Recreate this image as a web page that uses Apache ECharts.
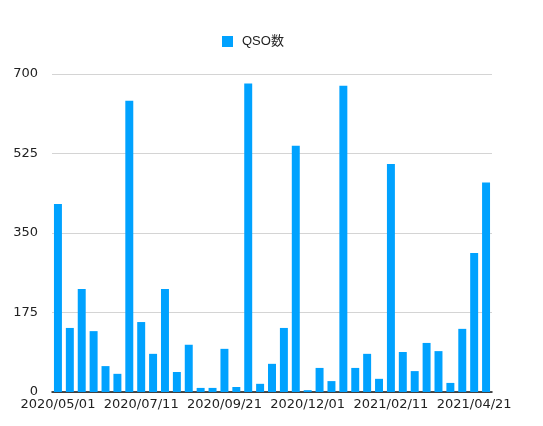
<!DOCTYPE html>
<html>
<head>
<meta charset="utf-8">
<script src="https://cdn.jsdelivr.net/npm/echarts@6/dist/echarts.min.js"></script>
<style>
  html, body { margin: 0; padding: 0; background: #fff; }
  #chart { width: 543px; height: 426px; }
</style>
</head>
<body>
<div id="chart"></div>
<script>
  // 10日ごとの集計
  const dates = [
    '2020/05/01', '2020/05/11', '2020/05/21', '2020/06/01', '2020/06/11', '2020/06/21',
    '2020/07/01', '2020/07/11', '2020/07/21', '2020/08/01', '2020/08/11', '2020/08/21',
    '2020/09/01', '2020/09/11', '2020/09/21', '2020/10/01', '2020/10/11', '2020/10/21',
    '2020/11/01', '2020/11/11', '2020/11/21', '2020/12/01', '2020/12/11', '2020/12/21',
    '2021/01/01', '2021/01/11', '2021/01/21', '2021/02/01', '2021/02/11', '2021/02/21',
    '2021/03/01', '2021/03/11', '2021/03/21', '2021/04/01', '2021/04/11', '2021/04/21',
    '2021/05/01'
  ]
  const qso = [
    414, 141, 227, 134, 57, 40, 641, 154, 84, 227, 44, 104,
    9, 9, 95, 11, 679, 18, 62, 141, 542, 4, 53, 24,
    674, 53, 84, 29, 502, 88, 46, 108, 90, 20, 139, 306,
    461
  ]
  const yTicks = [0, 175, 350, 525, 700]

  const font = '"DejaVu Sans", "Noto Sans CJK JP", sans-serif'
  const myChart = echarts.init(document.getElementById('chart'))
  myChart.setOption({
    animation: false,
    legend: {
      data: ['QSO数'],
      left: 217,
      top: 30,
      itemWidth: 11,
      itemHeight: 11,
      icon: 'rect',
      textStyle: {
        color: '#222',
        fontSize: 13,
        fontFamily: '"Liberation Sans", "Noto Sans CJK JP", sans-serif',
        padding: [0, 0, 0, 4],
      },
    },
    grid: {
      left: 52,
      right: 51,
      top: 74,
      bottom: 34,
    },
    xAxis: {
      type: 'category',
      data: dates,
      axisLine: { lineStyle: { color: '#111', width: 1.5 } },
      axisTick: { show: false },
      axisLabel: {
        interval: 6,
        margin: 6,
        color: '#222',
        fontSize: 13,
        fontFamily: font,
      },
    },
    yAxis: {
      type: 'value',
      min: yTicks[0],
      max: yTicks[yTicks.length - 1],
      interval: 175,
      axisLine: { show: false },
      axisTick: { show: false },
      axisLabel: { color: '#222', fontSize: 13, fontFamily: font, margin: 14 },
      splitLine: { lineStyle: { color: '#d4d4d4', width: 1 } },
    },
    series: [
      {
        name: 'QSO数',
        type: 'bar',
        data: qso,
        barCategoryGap: '33%',
        itemStyle: { color: '#00a2ff' },
      },
    ],
  })
</script>
</body>
</html>
